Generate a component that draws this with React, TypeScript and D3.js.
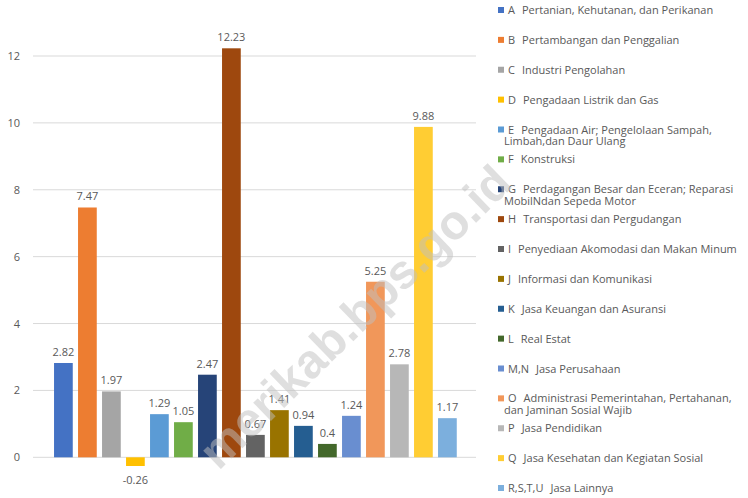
import React, { useEffect, useRef } from "react";
import * as d3 from "d3";

// PDRB growth by sector (%)
const sectorCodes = ["A", "B", "C", "D", "E", "F", "G", "H", "I", "J", "K", "L", "M,N", "O", "P", "Q", "R,S,T,U"];
const sectorNames = [
  "Pertanian, Kehutanan, dan Perikanan",
  "Pertambangan dan Penggalian",
  "Industri Pengolahan",
  "Pengadaan Listrik dan Gas",
  "Pengadaan Air; Pengelolaan Sampah,|Limbah,dan Daur Ulang",
  "Konstruksi",
  "Perdagangan Besar dan Eceran; Reparasi|MobilNdan Sepeda Motor",
  "Transportasi dan Pergudangan",
  "Penyediaan Akomodasi dan Makan Minum",
  "Informasi dan Komunikasi",
  "Jasa Keuangan dan Asuransi",
  "Real Estat",
  "Jasa Perusahaan",
  "Administrasi Pemerintahan, Pertahanan,|dan Jaminan Sosial Wajib",
  "Jasa Pendidikan",
  "Jasa Kesehatan dan Kegiatan Sosial",
  "Jasa Lainnya",
];
const growth = [2.82, 7.47, 1.97, -0.26, 1.29, 1.05, 2.47, 12.23, 0.67, 1.41, 0.94, 0.4, 1.24, 5.25, 2.78, 9.88, 1.17];
const yTicks = [0, 2, 4, 6, 8, 10, 12];
const colors = [
  "#4472C4", "#ED7D31", "#A5A5A5", "#FFC000", "#5B9BD5", "#70AD47", "#264478", "#9E480E",
  "#636363", "#997300", "#255E91", "#43682B", "#698ED0", "#F1975A", "#B7B7B7", "#FFCD33", "#7CAFDD",
];

const W = 748;
const H = 498;
const font = "'Open Sans', sans-serif";

const App = () => {
  const ref = useRef<SVGSVGElement>(null);

  useEffect(() => {
    const svg = d3.select(ref.current);
    svg.selectAll("*").remove();

    const x = d3.scaleBand<string>().domain(sectorCodes).range([51.4, 459.4]).paddingInner(0.22).paddingOuter(0.11);
    const y = d3.scaleLinear().domain([0, 12]).range([457.3, 56]);

    // gridlines
    svg
      .append("g")
      .selectAll("line")
      .data(yTicks)
      .enter()
      .append("line")
      .attr("x1", 33)
      .attr("x2", 476)
      .attr("y1", (d) => y(d))
      .attr("y2", (d) => y(d))
      .attr("stroke", "#d9d9d9")
      .attr("stroke-width", 1);

    // y tick labels
    svg
      .append("g")
      .selectAll("text")
      .data(yTicks)
      .enter()
      .append("text")
      .attr("x", 20)
      .attr("y", (d) => y(d) + 4)
      .attr("text-anchor", "end")
      .attr("font-family", font)
      .attr("font-size", 11)
      .attr("fill", "#595959")
      .text((d) => d);

    // bars
    svg
      .append("g")
      .selectAll("rect")
      .data(growth)
      .enter()
      .append("rect")
      .attr("x", (d, i) => x(sectorCodes[i])!)
      .attr("width", x.bandwidth())
      .attr("y", (d) => y(Math.max(0, d)))
      .attr("height", (d) => Math.abs(y(d) - y(0)))
      .attr("fill", (d, i) => colors[i]);

    // value labels
    svg
      .append("g")
      .selectAll("text")
      .data(growth)
      .enter()
      .append("text")
      .attr("x", (d, i) => x(sectorCodes[i])! + x.bandwidth() / 2)
      .attr("y", (d) => (d >= 0 ? y(d) - 7 : y(d) + 18))
      .attr("text-anchor", "middle")
      .attr("font-family", font)
      .attr("font-size", 11)
      .attr("fill", "#595959")
      .text((d) => d);

    // legend
    const ly = d3.scalePoint<string>().domain(sectorCodes).range([10, 488]);
    const legend = svg
      .append("g")
      .selectAll("g")
      .data(sectorCodes)
      .enter()
      .append("g")
      .attr("transform", (d) => `translate(0,${ly(d)})`);

    legend
      .append("rect")
      .attr("x", 498)
      .attr("y", -3)
      .attr("width", 6)
      .attr("height", 6)
      .attr("fill", (d, i) => colors[i]);

    legend.each(function (d, i) {
      const lines = sectorNames[i].split("|");
      const t = d3
        .select(this)
        .append("text")
        .attr("font-family", font)
        .attr("font-size", 11)
        .attr("fill", "#595959");
      t.append("tspan").attr("x", 508).attr("y", 4).text(d);
      t.append("tspan").attr("dx", 7).text(lines[0]);
      if (lines[1]) {
        t.append("tspan").attr("x", 504).attr("y", 15.5).text(lines[1]);
      }
    });

    // watermark
    svg
      .append("text")
      .attr("transform", "translate(514,186) rotate(-44)")
      .attr("text-anchor", "end")
      .attr("font-family", "'Liberation Sans', Arial, sans-serif")
      .attr("font-weight", "bold")
      .attr("font-size", 48)
      .attr("fill", "#bfbfbf")
      .attr("fill-opacity", 0.5)
      .text("merikab.bps.go.id");
  }, []);

  return (
    <svg
      ref={ref}
      width={W}
      height={H}
      style={{ position: "absolute", left: 0, top: 0, background: "#fff" }}
    />
  );
};

export default App;
